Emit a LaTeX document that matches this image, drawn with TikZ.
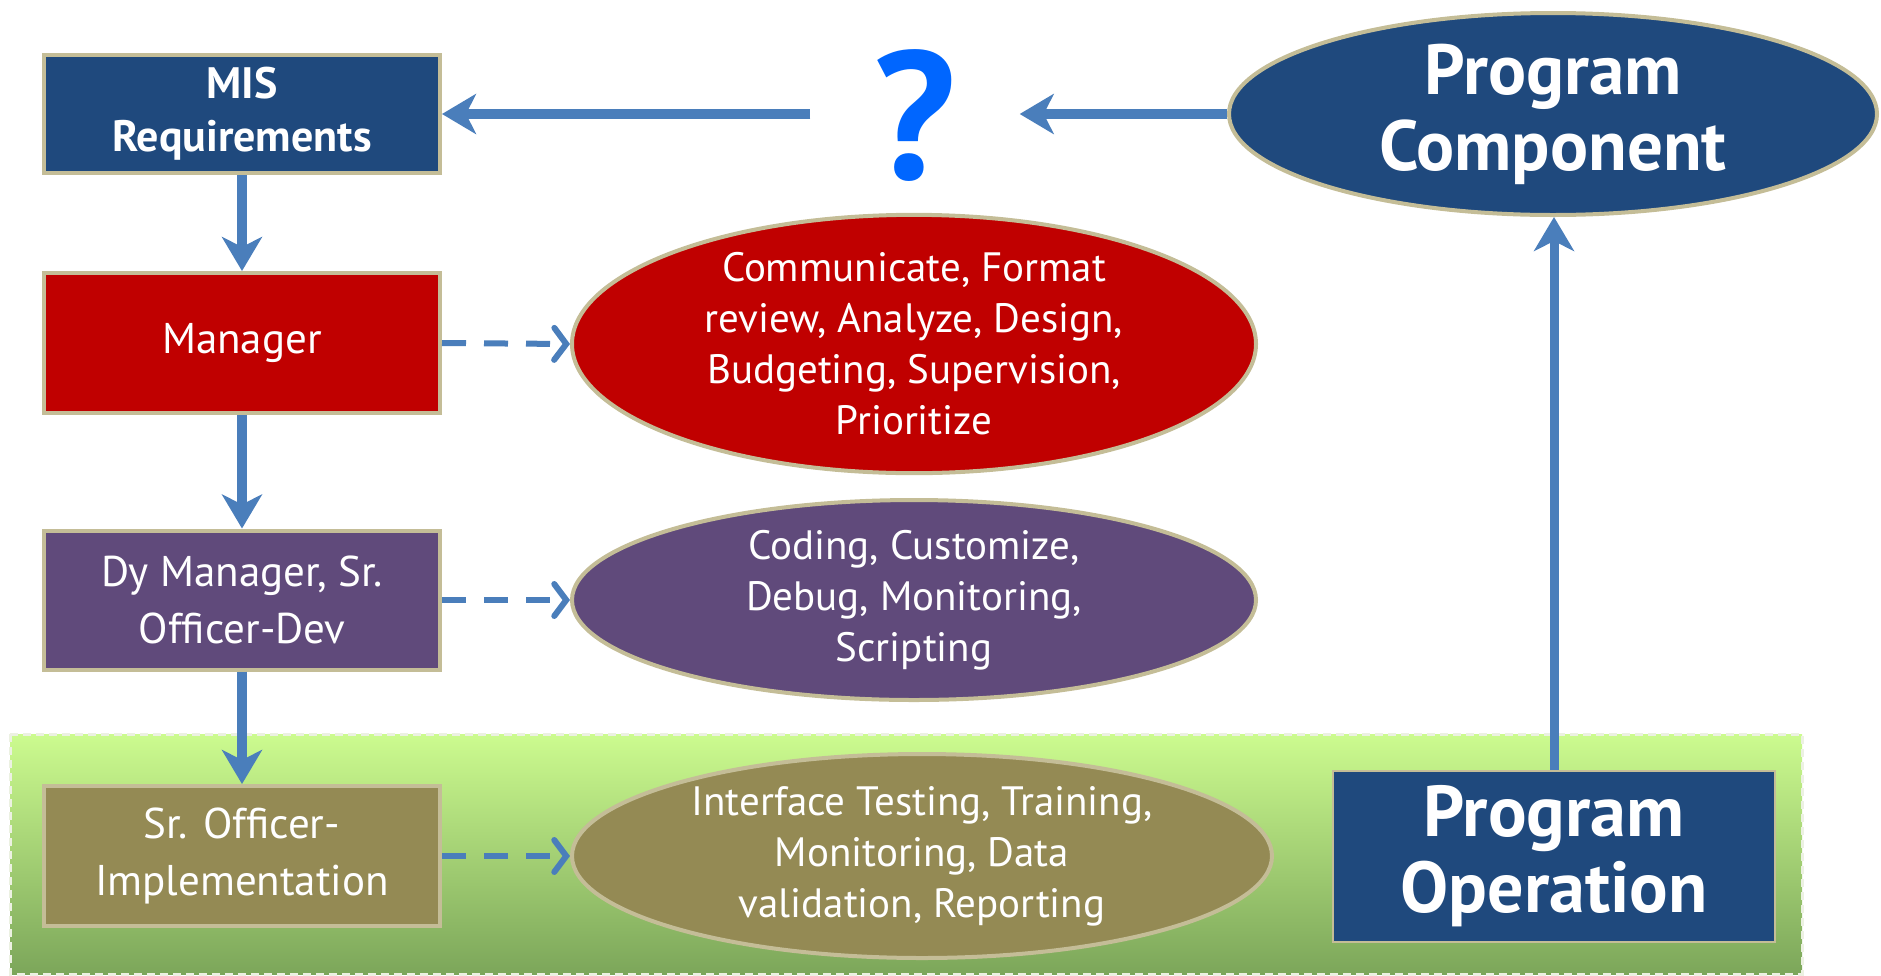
\documentclass[tikz,border=0pt]{standalone}
\usepackage{fontspec}
\setmainfont{PT Sans}
\usetikzlibrary{arrows.meta,shapes.geometric}
\definecolor{navyfill}{HTML}{1F497D}
\definecolor{redfill}{HTML}{C00000}
\definecolor{plumfill}{HTML}{604A7B}
\definecolor{olivefill}{HTML}{948A54}
\definecolor{edgetan}{HTML}{C4BD97}
\definecolor{arrowblue}{HTML}{4A7EBB}
\definecolor{qblue}{HTML}{0066FF}
\definecolor{bandtop}{RGB}{204,251,143}
\definecolor{bandbot}{RGB}{124,166,90}
\definecolor{bandedge}{RGB}{236,241,226}

\begin{document}
\begin{tikzpicture}[x=1pt,y=-1pt,
    rolebox/.style={draw=edgetan,line width=4pt,minimum width=396pt,text=white,align=center,inner sep=0pt,font=\fontsize{43}{57}\selectfont},
    task/.style={ellipse,draw=edgetan,line width=4pt,text=white,align=center,inner sep=0pt,font=\fontsize{41}{51}\selectfont},
    flow/.style={draw=arrowblue,line width=10pt,-{Stealth[length=34pt,width=40pt,inset=10pt]}},
    link/.style={draw=arrowblue,line width=6pt,dash pattern=on 24pt off 18pt,-{Straight Barb[length=12pt,width=32pt,line cap=round]}}]
    \useasboundingbox (0,0) rectangle (1881,975);

    % Implementation band (bottom)
    \shade[top color=bandtop,bottom color=bandbot] (10,734) rectangle (1802,974);
    \draw[bandedge,line width=3pt,dash pattern=on 8pt off 5pt] (10,734) rectangle (1802,974);

    % Roles (left column)
    \node[rolebox,fill=navyfill,minimum height=118pt,font=\fontsize{44}{53}\selectfont\bfseries] (mis) at (242,114) {MIS\\Requirements};
    \node[rolebox,fill=redfill,minimum height=140pt] (mgr) at (242,343) {Manager};
    \node[rolebox,fill=plumfill,minimum height=139pt] (dy) at (242,600) {Dy Manager, Sr.\\Officer-Dev};
    \node[rolebox,fill=olivefill,minimum height=140pt] (sr) at (242,856) {Sr. Officer-\\Implementation};

    % Tasks (middle column)
    \node[task,fill=redfill,minimum width=684pt,minimum height=228pt] (t1) at (914,344) {Communicate, Format\\review, Analyze, Design,\\Budgeting, Supervision,\\Prioritize};
    \node[task,fill=plumfill,minimum width=684pt,minimum height=200pt] (t2) at (914,600) {Coding, Customize,\\Debug, Monitoring,\\Scripting};
    \node[task,fill=olivefill,minimum width=700pt,minimum height=204pt] (t3) at (922,856) {Interface Testing, Training,\\Monitoring, Data\\validation, Reporting};

    % Program (right column)
    \node[ellipse,draw=edgetan,line width=4pt,fill=navyfill,text=white,align=center,inner sep=0pt,minimum width=648pt,minimum height=202pt,font=\fontsize{71}{76}\selectfont\bfseries] (pc) at (1553,114) {Program\\Component};
    \node[draw=edgetan,line width=2pt,fill=navyfill,text=white,align=center,inner sep=0pt,minimum width=442pt,minimum height=171pt,font=\fontsize{72}{76}\selectfont\bfseries] (po) at (1554,856) {Program\\Operation};
    \node[text=qblue,minimum width=209pt,inner sep=0pt,font=\fontsize{182}{182}\selectfont\bfseries] (q) at (915,116) {?};

    % Connectors
    \draw[flow] (pc.west) -- (pc.west -| q.east);
    \draw[flow] (q.west |- mis.east) -- (mis.east);
    \draw[flow] (mis.south) -- (mgr.north);
    \draw[flow] (mgr.south) -- (dy.north);
    \draw[flow] (dy.south) -- (sr.north);
    \draw[flow,line width=9pt] (po.north) -- (po.north |- pc.south);
    \draw[link] (mgr.east) -- (t1.west);
    \draw[link] (dy.east) -- (t2.west);
    \draw[link] (sr.east) -- (t3.west);
\end{tikzpicture}
\end{document}
